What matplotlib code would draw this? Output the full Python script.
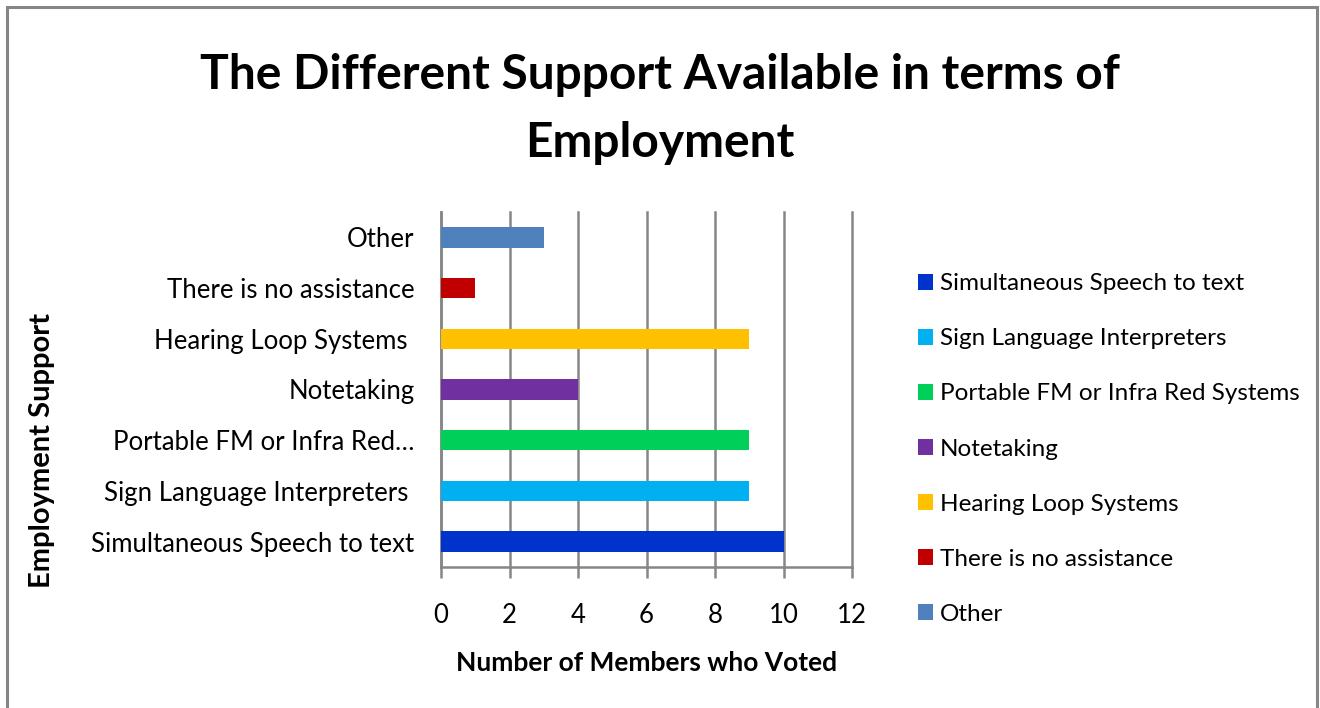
import numpy as np
import matplotlib.pyplot as plt
from matplotlib.patches import Patch, Rectangle

plt.rcParams['font.family'] = ['Lato', 'DejaVu Sans']

# Votes per support type (bottom to top on the chart)
categories = ["Simultaneous Speech to text", "Sign Language Interpreters",
              "Portable FM or Infra Red Systems", "Notetaking",
              "Hearing Loop Systems", "There is no assistance", "Other"]
tick_labels = ["Simultaneous Speech to text", "Sign Language Interpreters ",
               "Portable FM or Infra Red\u2026", "Notetaking",
               "Hearing Loop Systems ", "There is no assistance", "Other"]
votes = [10, 9, 9, 4, 9, 1, 3]
colors = ["#0033CC", "#00B0F0", "#00D05A", "#7030A0",
          "#FFC000", "#C00000", "#4F81BD"]

fig = plt.figure(figsize=(13.2, 7.08), dpi=100)
W, H = 1320, 708

# outer chart border
fig.patches.append(Rectangle((7 / W, -0.01), (1317 - 7) / W, 1.01 - 7 / H,
                             transform=fig.transFigure, fill=False,
                             edgecolor="#868686", linewidth=2.2))

ax = fig.add_axes([441 / W, 1 - 567 / H, (852 - 441) / W, (567 - 212) / H])
y = np.arange(len(categories))
ax.barh(y, votes, height=0.4, color=colors, zorder=3)

ax.set_xlim(0, 12)
ax.set_ylim(-0.5, len(categories) - 0.5)
ax.set_xticks(range(0, 13, 2))
ax.set_yticks(y)
ax.set_yticklabels(tick_labels, fontsize=18.5)
ax.tick_params(axis='x', labelsize=18.5, length=8, width=1.8, color="#868686",
               pad=18)
ax.tick_params(axis='y', length=0, pad=19)
ax.grid(axis='x', color="#868686", linewidth=1.8, zorder=0)
for gl in ax.get_xgridlines():
    gl.set_clip_on(False)
for s in ["top", "right"]:
    ax.spines[s].set_visible(False)
ax.spines["left"].set_color("#868686")
ax.spines["left"].set_linewidth(1.8)
ax.spines["bottom"].set_color("#868686")
ax.spines["bottom"].set_linewidth(1.8)

fig.text(660 / W, 1 - 75 / H, "The Different Support Available in terms of",
         ha="center", va="center", fontsize=34.5, fontweight="bold")
fig.text(660 / W, 1 - 143 / H, "Employment",
         ha="center", va="center", fontsize=34.5, fontweight="bold")
fig.text(647 / W, 1 - 663 / H, "Number of Members who Voted",
         ha="center", va="center", fontsize=19, fontweight="bold")
fig.text(42 / W, 1 - 450 / H, "Employment Support", rotation=90,
         ha="center", va="center", fontsize=21, fontweight="bold")

handles = [Patch(facecolor=c, edgecolor="none") for c in colors]
fig.legend(handles, categories, loc="center left",
           bbox_to_anchor=(906 / W, 1 - 449 / H), frameon=False,
           fontsize=17.5, handlelength=0.6, handleheight=0.6,
           handletextpad=0.3, labelspacing=1.4, borderpad=0)

fig.savefig("out.png", dpi=100)
